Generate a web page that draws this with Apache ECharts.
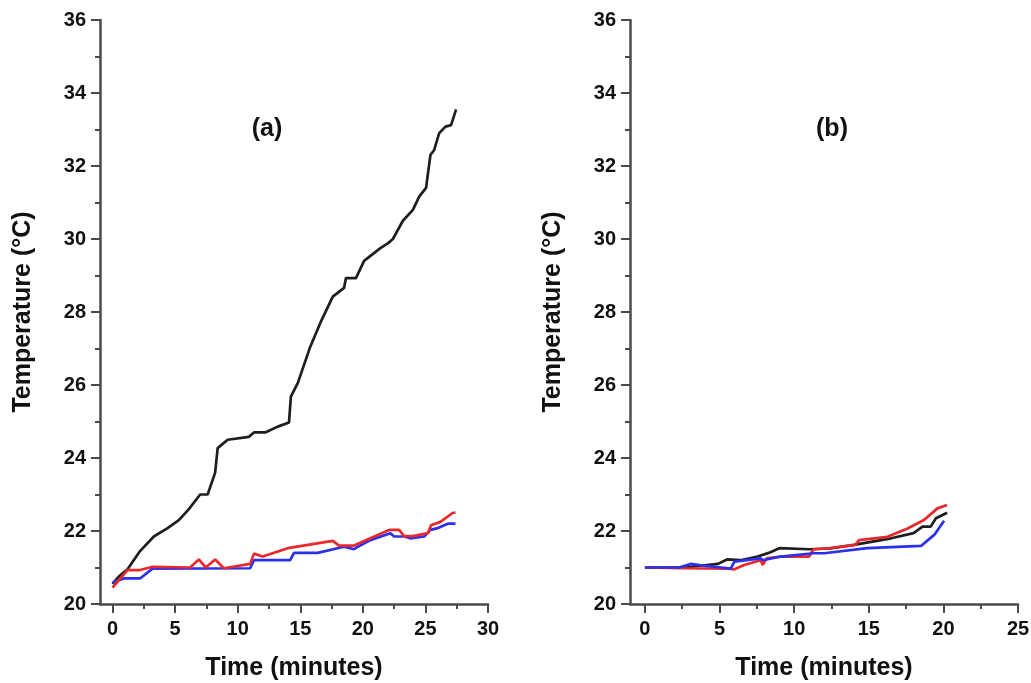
<!DOCTYPE html>
<html>
<head>
<meta charset="utf-8">
<script src="https://cdn.jsdelivr.net/npm/echarts@6/dist/echarts.min.js"></script>
<style>
html,body{margin:0;padding:0;background:#fff;}
#chart{width:1031px;height:683px;}
</style>
</head>
<body>
<div id="chart"></div>
<script>
// ---- data (time in minutes, temperature in °C) ----
var aBlack = [[0,20.55],[0.5,20.75],[1.2,20.95],[2.2,21.45],[3.3,21.85],[4.4,22.08],[5.3,22.3],[6.1,22.6],[7.0,23.0],[7.6,23.0],[8.2,23.6],[8.4,24.27],[9.2,24.5],[10.9,24.58],[11.3,24.7],[12.2,24.7],[13.2,24.86],[14.1,24.97],[14.25,25.68],[14.8,26.05],[15.8,27.05],[16.6,27.7],[17.6,28.42],[18.5,28.66],[18.65,28.93],[19.45,28.93],[20.1,29.4],[21.4,29.75],[22.0,29.88],[22.4,30.0],[23.2,30.5],[24.0,30.8],[24.5,31.16],[25.05,31.4],[25.4,32.3],[25.7,32.44],[26.1,32.9],[26.6,33.08],[27.05,33.12],[27.45,33.55]];
var aRed = [[0,20.45],[1.2,20.93],[2.2,20.93],[3.2,21.02],[6.2,21.0],[6.9,21.22],[7.45,21.0],[8.2,21.22],[8.9,20.98],[11.0,21.1],[11.3,21.38],[12.0,21.3],[14.0,21.53],[17.6,21.73],[18.1,21.6],[19.3,21.6],[20.6,21.8],[22.1,22.03],[22.9,22.03],[23.3,21.86],[24.0,21.86],[25.2,21.94],[25.45,22.16],[26.2,22.25],[27.2,22.5],[27.4,22.5]];
var aBlue = [[0,20.58],[0.9,20.7],[2.2,20.7],[3.2,20.97],[11.0,20.98],[11.3,21.2],[14.2,21.2],[14.5,21.4],[16.4,21.4],[18.5,21.57],[19.3,21.5],[19.6,21.57],[20.6,21.75],[22.2,21.94],[22.5,21.85],[23.3,21.85],[23.8,21.8],[24.9,21.85],[25.4,22.03],[26.0,22.08],[26.5,22.16],[26.8,22.2],[27.4,22.2]];
var bBlack = [[0,21.0],[2.6,21.0],[4.9,21.1],[5.5,21.22],[6.4,21.2],[7.55,21.3],[8.3,21.4],[9.0,21.53],[11.0,21.5],[12.4,21.52],[14.0,21.62],[16.5,21.8],[18.0,21.94],[18.6,22.12],[19.15,22.12],[19.5,22.35],[20.25,22.5]];
var bRed = [[0,21.0],[2.5,20.98],[5.65,20.97],[6.0,20.95],[6.65,21.07],[7.75,21.2],[7.9,21.07],[8.15,21.25],[9.1,21.3],[11.0,21.3],[11.3,21.5],[12.4,21.53],[14.1,21.62],[14.35,21.75],[16.25,21.84],[17.6,22.07],[18.7,22.3],[19.6,22.62],[20.25,22.71]];
var bBlue = [[0,21.0],[2.3,21.0],[3.1,21.1],[3.75,21.06],[5.1,21.0],[5.75,20.97],[6.0,21.16],[7.75,21.25],[7.9,21.2],[9.1,21.3],[11.3,21.39],[12.0,21.39],[14.9,21.53],[18.5,21.59],[19.4,21.9],[20.05,22.28]];

var aMajorX = [0,5,10,15,20,25,30];
var aMinorX = [2.5,7.5,12.5,17.5,22.5,27.5];
var bMajorX = [0,5,10,15,20,25];
var bMinorX = [2.5,7.5,12.5,17.5,22.5];
var panelLabels = ['(a)', '(b)'];
var xTitle = 'Time (minutes)';
var yTitle = 'Temperature (\u00B0C)';

var FONT = '"Liberation Sans", Arial, sans-serif';
var AX = '#4a4a4a';
var cBlack = '#1e1e1e', cRed = '#e8282a', cBlue = '#2b30ec';

function xMain(grid, max, majors) {
  return {
    type: 'value', gridIndex: grid, min: -1, max: max, position: 'bottom',
    name: xTitle, nameLocation: 'middle', nameGap: 52,
    nameTextStyle: {fontFamily: FONT, fontWeight: 'bold', fontSize: 25, color: '#111'},
    axisLine: {show: true, onZero: false, lineStyle: {color: AX, width: 2.5}},
    axisTick: {show: true, customValues: majors, length: 9, lineStyle: {color: AX, width: 2}},
    axisLabel: {customValues: majors, fontFamily: FONT, fontWeight: 'bold', fontSize: 20, color: '#111', margin: 15},
    splitLine: {show: false}
  };
}
function xMinor(grid, max, minors) {
  return {
    type: 'value', gridIndex: grid, min: -1, max: max, position: 'bottom',
    axisLine: {show: false},
    axisTick: {show: true, customValues: minors, length: 5, lineStyle: {color: AX, width: 2}},
    axisLabel: {show: false},
    splitLine: {show: false}
  };
}
function yAx(grid) {
  return {
    type: 'value', gridIndex: grid, min: 20, max: 36, interval: 2,
    name: yTitle, nameLocation: 'middle', nameGap: 64,
    nameTextStyle: {fontFamily: FONT, fontWeight: 'bold', fontSize: 25, color: '#111'},
    axisLine: {show: true, onZero: false, lineStyle: {color: AX, width: 2.5}},
    axisTick: {show: true, length: 9, lineStyle: {color: AX, width: 2}},
    minorTick: {show: true, splitNumber: 2, length: 5, lineStyle: {color: AX, width: 2}},
    axisLabel: {fontFamily: FONT, fontWeight: 'bold', fontSize: 20, color: '#111', margin: 14},
    splitLine: {show: false}, minorSplitLine: {show: false}
  };
}
function line(data, color, xi, yi, z) {
  return {type: 'line', data: data, xAxisIndex: xi, yAxisIndex: yi, showSymbol: false, symbol: 'none',
    lineStyle: {color: color, width: 2.7}, itemStyle: {color: color}, z: z, animation: false};
}

var chart = echarts.init(document.getElementById('chart'), null, {renderer: 'canvas'});
chart.setOption({
  backgroundColor: '#fff',
  animation: false,
  grid: [
    {left: 100, top: 20, width: 388, height: 584, containLabel: false, outerBoundsMode: 'none'},
    {left: 630, top: 20, width: 388, height: 584, containLabel: false, outerBoundsMode: 'none'}
  ],
  xAxis: [xMain(0, 30, aMajorX), xMinor(0, 30, aMinorX), xMain(1, 25, bMajorX), xMinor(1, 25, bMinorX)],
  yAxis: [yAx(0), yAx(1)],
  graphic: [
    {type: 'text', x: 267, y: 129, style: {text: panelLabels[0], font: 'bold 25px ' + FONT, fill: '#111', align: 'center', verticalAlign: 'middle'}},
    {type: 'text', x: 832, y: 129, style: {text: panelLabels[1], font: 'bold 25px ' + FONT, fill: '#111', align: 'center', verticalAlign: 'middle'}}
  ],
  series: [
    line(aBlack, cBlack, 0, 0, 3),
    line(aBlue, cBlue, 0, 0, 4),
    line(aRed, cRed, 0, 0, 5),
    line(bBlack, cBlack, 2, 1, 3),
    line(bRed, cRed, 2, 1, 4),
    line(bBlue, cBlue, 2, 1, 5)
  ]
});
</script>
</body>
</html>
